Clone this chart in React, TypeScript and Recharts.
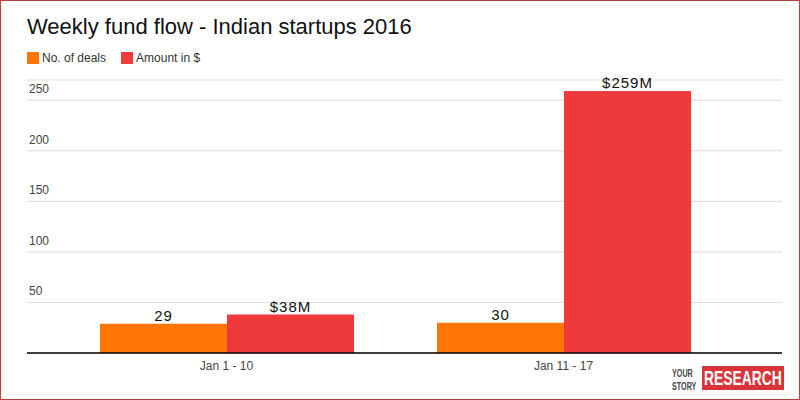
import { BarChart, Bar, XAxis, YAxis, CartesianGrid, LabelList } from 'recharts';

const weeks = ['Jan 1 - 10', 'Jan 11 - 17'];
const dealCounts = [29, 30];
const amountsMillion = [38, 259];
const yTicks = [0, 50, 100, 150, 200, 250];

const ORANGE = '#ff7506';
const RED = '#ef3a3b';
const FONT = 'Arial, "Liberation Sans", sans-serif';

const rows = weeks.map((week, i) => ({
  week,
  deals: dealCounts[i],
  amount: amountsMillion[i],
}));

// y labels sit above their gridline at the left edge of the plot
function renderLeftTick(props: any) {
  const { y, payload } = props;
  if (payload.value === 0) return <g />;
  return (
    <text x={29} y={y - 7} fontSize={12} fill="#444" fontFamily={FONT} textAnchor="start">
      {payload.value}
    </text>
  );
}

function LegendItem({ color, label }: { color: string; label: string }) {
  return (
    <div style={{ display: 'flex', alignItems: 'center', marginRight: 15 }}>
      <div style={{ width: 12, height: 12, background: color, marginRight: 3 }} />
      <span style={{ fontSize: 12, color: '#333' }}>{label}</span>
    </div>
  );
}

export default function App() {
  return (
    <div
      style={{
        position: 'fixed',
        top: 0,
        left: 0,
        width: 800,
        height: 400,
        boxSizing: 'border-box',
        border: '1px solid #c23b3b',
        background: '#fff',
        fontFamily: FONT,
        overflow: 'hidden',
      }}
    >
      <div style={{ position: 'absolute', left: 26, top: 13, fontSize: 22, color: '#111' }}>
        Weekly fund flow - Indian startups 2016
      </div>
      <div style={{ position: 'absolute', left: 26, top: 50, display: 'flex' }}>
        <LegendItem color={ORANGE} label="No. of deals" />
        <LegendItem color={RED} label="Amount in $" />
      </div>
      <div style={{ position: 'absolute', left: -1, top: -1 }}>
        <BarChart
          width={800}
          height={400}
          data={rows}
          margin={{ top: 80, right: 18, bottom: 17, left: 26 }}
          barGap={0}
          barCategoryGap={42}
        >
          <CartesianGrid vertical={false} stroke="#dcdcdc" />
          <XAxis
            dataKey="week"
            height={30}
            padding={{ left: 31, right: 50 }}
            axisLine={{ stroke: '#000', strokeWidth: 1.5 }}
            tickLine={false}
            tick={{ fontSize: 12, fill: '#444', fontFamily: FONT }}
            tickMargin={2}
          />
          <YAxis
            width={1}
            domain={[0, 270]}
            ticks={yTicks}
            axisLine={false}
            tickLine={false}
            tick={renderLeftTick}
          />
          <Bar dataKey="deals" fill={ORANGE} isAnimationActive={false}>
            <LabelList
              dataKey="deals"
              position="top"
              offset={3}
              style={{ fontSize: 15, fill: '#111', fontFamily: FONT, letterSpacing: 1 }}
            />
          </Bar>
          <Bar dataKey="amount" fill={RED} isAnimationActive={false}>
            <LabelList
              dataKey="amount"
              position="top"
              offset={3}
              formatter={(v: any) => `$${v}M`}
              style={{ fontSize: 15, fill: '#111', fontFamily: FONT, letterSpacing: 1 }}
            />
          </Bar>
        </BarChart>
      </div>
      <div
        style={{
          position: 'absolute',
          left: 671,
          top: 366,
          fontSize: 10,
          lineHeight: '11px',
          fontWeight: 'bold',
          color: '#444',
          whiteSpace: 'pre-line',
          transform: 'scale(0.72, 1.15)',
          transformOrigin: 'left top',
        }}
      >
        {'YOUR\nSTORY'}
      </div>
      <div
        style={{
          position: 'absolute',
          left: 701,
          top: 365,
          width: 82,
          height: 24,
          background: '#d8353b',
          color: '#fff',
          fontWeight: 'bold',
          fontSize: 21,
          lineHeight: '24px',
          overflow: 'hidden',
          whiteSpace: 'nowrap',
        }}
      >
        <span
          style={{
            display: 'inline-block',
            marginLeft: 2,
            transform: 'scaleX(0.66)',
            transformOrigin: 'left center',
          }}
        >
          RESEARCH
        </span>
      </div>
    </div>
  );
}
